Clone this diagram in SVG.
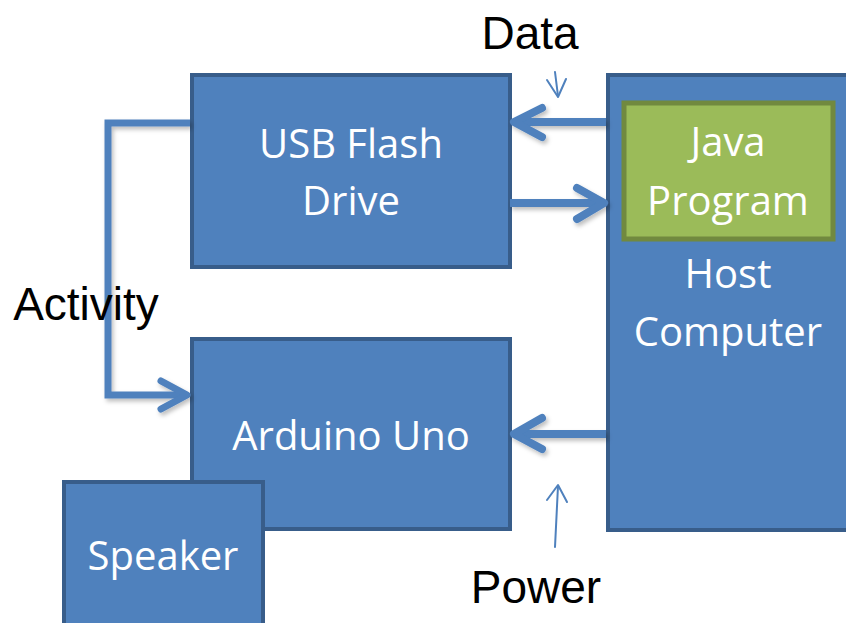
<svg xmlns="http://www.w3.org/2000/svg" width="846" height="623" viewBox="0 0 846 623">
<defs>
<filter id="sh" x="-20%" y="-20%" width="140%" height="140%">
<feDropShadow dx="2" dy="3" stdDeviation="2" flood-color="#000" flood-opacity="0.25"/>
</filter>
</defs>
<style>
.box{fill:#4F81BD;stroke:#385D8A;stroke-width:4}
.green{fill:#9BBB59;stroke:#71893F;stroke-width:5}
.wt{fill:#FFFFFF;font-family:"Open Sans","Noto Sans",sans-serif;font-size:40px;text-anchor:middle}
.bt{fill:#000000;font-family:"Liberation Sans",Arial,sans-serif;font-size:46px;text-anchor:middle}
.thick{fill:none;stroke:#4F81BD;stroke-width:8;stroke-linecap:round;stroke-linejoin:round}
.cap{stroke-linecap:butt}
.thin{fill:none;stroke:#4F81BD;stroke-width:2;stroke-linecap:round;stroke-linejoin:round}
</style>
<g id="usb">
<rect class="box" x="192" y="75" width="318" height="192"/>
<text class="wt" x="351" y="158">USB Flash</text>
<text class="wt" x="351" y="215">Drive</text>
</g>
<g id="host">
<rect class="box" x="608" y="75" width="260" height="455"/>
<text class="wt" x="728" y="288">Host</text>
<text class="wt" x="728" y="346">Computer</text>
</g>
<g id="java">
<rect class="green" x="624" y="103" width="209" height="136"/>
<text class="wt" x="728" y="156">Java</text>
<text class="wt" x="728" y="215">Program</text>
</g>
<g id="arduino">
<rect class="box" x="192" y="339" width="318" height="190"/>
<text class="wt" x="351" y="450">Arduino Uno</text>
</g>
<g id="speaker">
<rect class="box" x="64" y="482" width="199" height="160"/>
<text class="wt" x="163" y="570">Speaker</text>
</g>
<g id="connectors" filter="url(#sh)">
<path class="thick cap" d="M606 122 H514"/>
<path class="thick" d="M542 108 L514 122 L542 137"/>
<path class="thick cap" d="M510 203 H603"/>
<path class="thick" d="M577 188 L604 203 L577 219"/>
<path class="thick cap" d="M606 434 H514"/>
<path class="thick" d="M542 418 L514 434 L542 449"/>
<path class="thick cap" d="M190 123 H108 V395 H187" style="stroke-width:7;stroke-linejoin:miter"/>
<path class="thick" d="M161 381 L187 395 L161 409" style="stroke-width:7"/>
</g>
<g id="labels">
<path class="thin" d="M555 72 L558 96"/>
<path class="thin" d="M547 80 L558 97 L566 79"/>
<path class="thin" d="M555 547 L558 486"/>
<path class="thin" d="M547 500 L558 485 L567 502"/>
<text class="bt" x="530" y="49">Data</text>
<text class="bt" x="86" y="320">Activity</text>
<text class="bt" x="536" y="603">Power</text>
</g>
</svg>
